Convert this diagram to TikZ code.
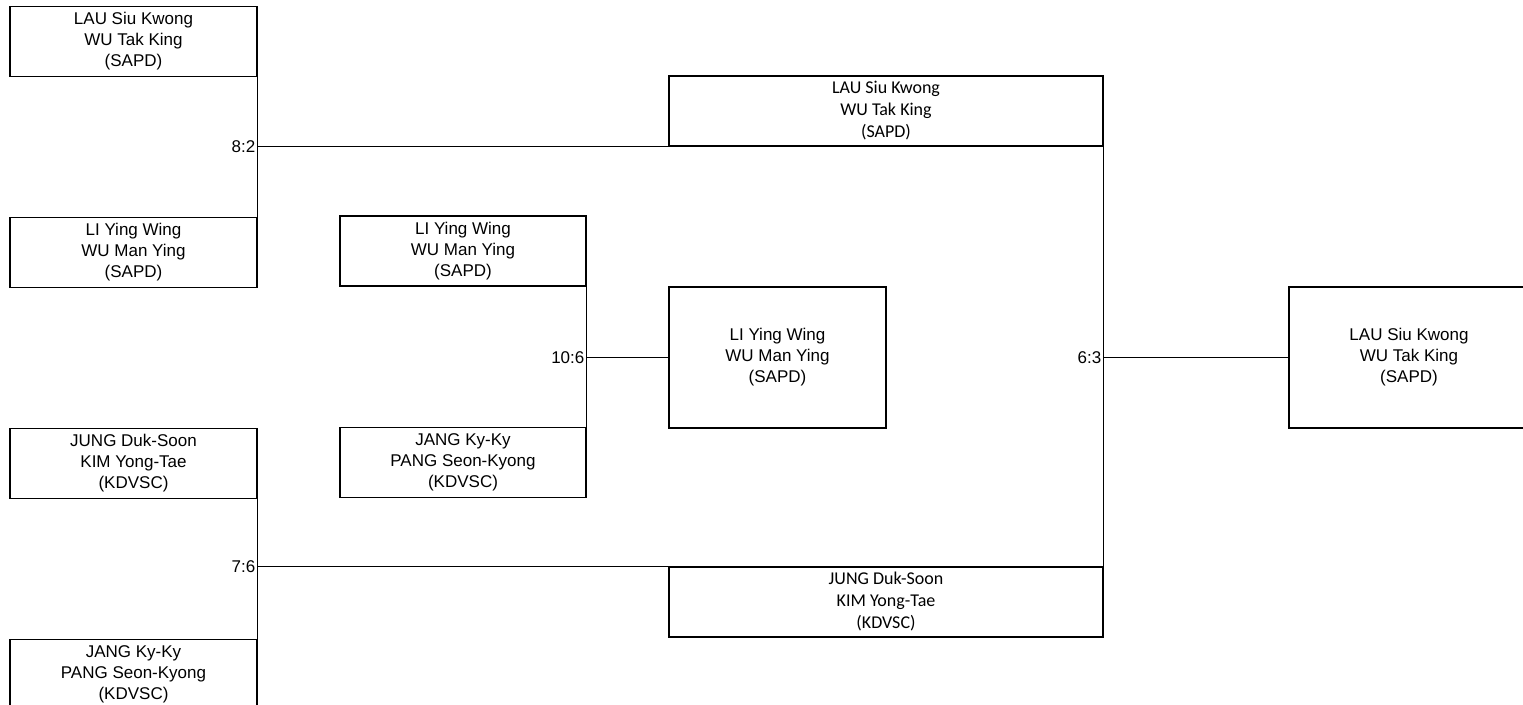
\documentclass[tikz,border=0pt]{standalone}
\usepackage{fontspec}
\setmainfont{Liberation Sans}
\newfontfamily\carlito{Carlito}
\usetikzlibrary{calc}
\tikzstyle{team} = [rectangle, 
minimum width=247pt, 
minimum height=70pt, 
align=center, 
draw=black, 
line width=1.1pt,
font={\fontsize{17pt}{21pt}\selectfont}]
\tikzstyle{team_big} = [team, 
minimum height=141pt]
\tikzstyle{team_wide} = [team, 
minimum width=434pt, 
font={\carlito\fontsize{18pt}{22pt}\selectfont}]
\tikzstyle{score} = [anchor=east, 
inner sep=2pt, 
font={\fontsize{17pt}{21pt}\selectfont}]
\tikzstyle{line} = [line width=1.1pt]

\begin{document}
\begin{tikzpicture}[x=1pt, y=1pt, node distance=211pt]
\useasboundingbox (0,0) rectangle (1523,704);

% first round
\node (lauA) [team] at (133.5,662.5) {LAU Siu Kwong\\WU Tak King\\(SAPD)};
\node (liB) [team, below of=lauA] {LI Ying Wing\\WU Man Ying\\(SAPD)};
\node (jungC) [team, below of=liB] {JUNG Duk-Soon\\KIM Yong-Tae\\(KDVSC)};
\node (jangD) [team, below of=jungC] {JANG Ky-Ky\\PANG Seon-Kyong\\(KDVSC)};
\node (liE) [team, minimum width=246pt] at (463,453) {LI Ying Wing\\WU Man Ying\\(SAPD)};
\node (jangF) [team, minimum width=246pt] at (463,241.5) {JANG Ky-Ky\\PANG Seon-Kyong\\(KDVSC)};

% semi finals
\node (lauH) [team_wide] at (886,593) {LAU Siu Kwong\\WU Tak King\\(SAPD)};
\node (liG) [team_big, minimum width=217pt] at (777.5,346.5) {LI Ying Wing\\WU Man Ying\\(SAPD)};
\node (jungI) [team_wide] at (886,102) {JUNG Duk-Soon\\KIM Yong-Tae\\(KDVSC)};

% final
\node (lauJ) [team_big, minimum width=240pt] at (1409,346.5) {LAU Siu Kwong\\WU Tak King\\(SAPD)};

\coordinate (m82) at (lauA.east |- lauH.south);
\coordinate (m76) at (jungC.east |- jungI.north);
\coordinate (m106) at (liE.east |- liG.west);
\coordinate (m63) at (lauH.east |- lauJ.west);

\draw [line] (lauA.south east) -- (liB.north east);
\draw [line] (m82) -- (lauH.south west);
\draw [line] (jungC.south east) -- (jangD.north east);
\draw [line] (m76) -- (jungI.north west);
\draw [line] (liE.south east) -- (jangF.north east);
\draw [line] (m106) -- (liG.west);
\draw [line] (lauH.south east) -- (jungI.north east);
\draw [line] (m63) -- (lauJ.west);

\node (s82) [score] at (m82) {8:2};
\node (s76) [score] at (m76) {7:6};
\node (s106) [score] at (m106) {10:6};
\node (s63) [score] at (m63) {6:3};

\end{tikzpicture}
\end{document}
